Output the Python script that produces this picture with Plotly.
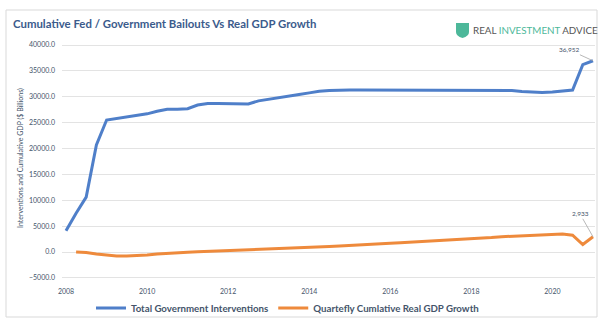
import plotly.graph_objects as go

# ---- data (quarterly, 2008Q1 .. 2021Q1) ----
years = list(range(2008, 2022))
quarters = [f"{y}-{m:02d}-01" for y in years for m in (1, 4, 7, 10)][:53]

interventions = [4100, 7500, 10600, 20700, 25500, 25800, 26100, 26300, 26700, 27200,
                 27600, 27600, 27700, 28400, 28700, 28700, 28700, 28700, 28600, 29200,
                 29550, 29850, 30200, 30450, 30750, 31050, 31200, 31300, 31300, 31300,
                 31300, 31300, 31300, 31300, 31300, 31300, 31300, 31300, 31300, 31300,
                 31300, 31300, 31300, 31300, 31200, 31000, 30900, 30800, 30900, 31100,
                 31300, 36200, 36952]

gdp_growth = [None, 0, -100, -400, -600, -750, -770, -720, -600, -400,
              -250, -100, -50, 50, 120, 200, 250, 320, 380, 450,
              550, 640, 720, 800, 900, 1000, 1080, 1170, 1250, 1350,
              1450, 1550, 1680, 1800, 1900, 2000, 2080, 2180, 2280, 2380,
              2480, 2650, 2800, 2960, 3070, 3180, 3270, 3350, 3430, 3480,
              3250, 1450, 2933]

series_names = ["Total Government Interventions", "Quartefly Cumlative Real GDP Growth"]
series_colors = ["#4F7FC9", "#EE8A3C"]
title_text = "Cumulative Fed / Government Bailouts Vs Real GDP Growth"
y_title = "Interventions and Cumulative GDP ($ Billions)"

# ---- layout geometry ----
W_PX, H_PX = 600, 320
L, R, T, B = 62, 5, 42, 40
PW, PH = W_PX - L - R, H_PX - T - B

def px(xp):
    return (xp - L) / PW

def py(yp):
    return (H_PX - B - yp) / PH

TXT = "#44546A"
FONT = "Lato"

fig = go.Figure()
fig.add_trace(go.Scatter(x=quarters, y=interventions, mode="lines",
                         name=f"<b>{series_names[0]}</b>",
                         line=dict(color=series_colors[0], width=3)))
fig.add_trace(go.Scatter(x=quarters, y=gdp_growth, mode="lines",
                         name=f"<b>{series_names[1]}</b>",
                         line=dict(color=series_colors[1], width=3)))

fig.update_layout(
    width=W_PX, height=H_PX,
    margin=dict(l=L, r=R, t=T, b=B, autoexpand=False),
    paper_bgcolor="white", plot_bgcolor="white",
    font=dict(family=FONT, color=TXT, size=7),
    showlegend=True,
    legend=dict(orientation="h", x=px(91), xanchor="left", y=py(308), yanchor="middle",
                font=dict(size=9.7, color=TXT), tracegroupgap=0,
                bgcolor="rgba(0,0,0,0)"),
    xaxis=dict(type="date", range=["2007-11-26", "2021-01-19"], dtick="M24",
               tick0="2008-01-01", tickformat="%Y", showgrid=False, zeroline=False,
               showline=False, ticks="", ticklabelstandoff=6,
               tickfont=dict(size=7, color=TXT)),
    yaxis=dict(range=[-5411, 40580], tickvals=list(range(-5000, 40001, 5000)),
               tickformat=".1f", showgrid=True, gridcolor="#E3E3E3", gridwidth=1,
               zeroline=False, showline=False, ticks="", ticklabelstandoff=6,
               tickfont=dict(size=7, color=TXT)),
)

annotations = [
    dict(text=f"<b>{title_text}</b>", xref="paper", yref="paper", x=px(11), y=py(23),
         xanchor="left", yanchor="middle", showarrow=False,
         font=dict(size=11.4, color="#3B5B8C", family=FONT)),
    dict(text=("<span style='color:#555555'>REAL </span>"
               "<span style='color:#4DB89A'>INVESTMENT </span>"
               "<span style='color:#555555'>ADVICE</span>"),
         xref="paper", yref="paper", x=px(471), y=py(30), xanchor="left", yanchor="middle",
         showarrow=False, font=dict(size=9.8, family=FONT)),
    dict(text=y_title, xref="paper", yref="paper", x=px(20), y=py(158), textangle=-90,
         xanchor="center", yanchor="middle", showarrow=False,
         font=dict(size=7, color=TXT)),
    dict(text="36,952", x=quarters[-1], y=interventions[-1], ax=-24, ay=-11,
         showarrow=True, arrowhead=0, arrowwidth=0.8, arrowcolor="#A6A6A6",
         font=dict(size=6.5, color=TXT)),
    dict(text=f"{gdp_growth[-1]:,}", x=quarters[-1], y=gdp_growth[-1], ax=-13, ay=-23,
         showarrow=True, arrowhead=0, arrowwidth=0.8, arrowcolor="#A6A6A6",
         font=dict(size=6.5, color=TXT)),
]
fig.update_layout(annotations=annotations)

shapes = [
    dict(type="rect", xref="paper", yref="paper", x0=px(6), x1=px(597), y0=py(317), y1=py(10),
         line=dict(color="#D9D9D9", width=1), fillcolor="rgba(0,0,0,0)", layer="below"),
    dict(type="path", xref="paper", yref="paper",
         path=(f"M {px(456)},{py(23)} L {px(469)},{py(23)} L {px(469)},{py(32)} "
               f"Q {px(469)},{py(36)} {px(462.5)},{py(38)} Q {px(456)},{py(36)} {px(456)},{py(32)} Z"),
         fillcolor="#4DB89A", line=dict(width=0)),
]
fig.update_layout(shapes=shapes)

fig.write_html("out.html")
